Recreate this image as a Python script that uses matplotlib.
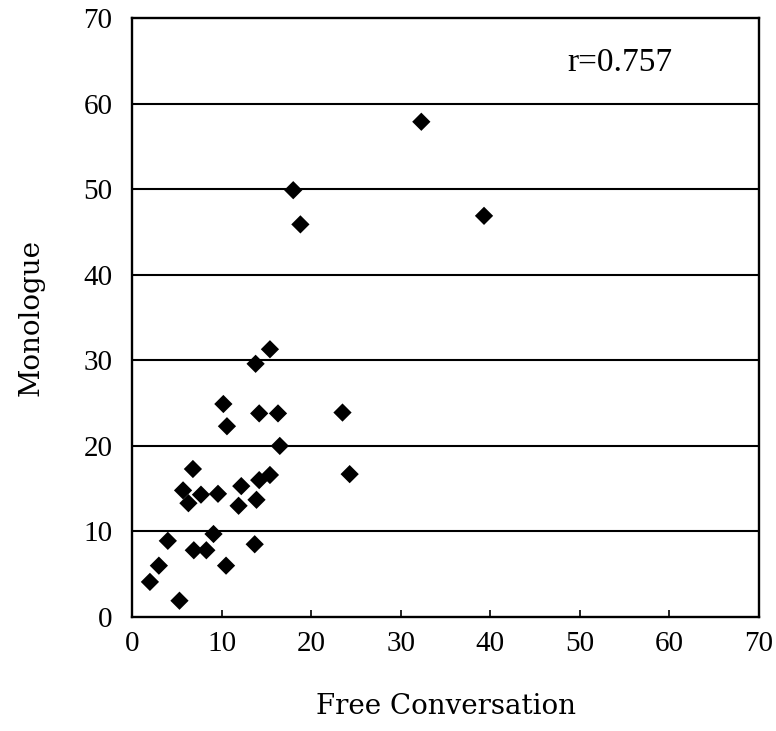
import matplotlib
matplotlib.use("Agg")
import matplotlib.pyplot as plt

# Data
free_conversation = [16.5, 6.8, 15.4, 14.2, 12.2, 5.7, 7.7, 9.6, 6.3, 11.9, 13.9,
                     9.1, 4.0, 6.9, 8.3, 13.7, 3.0, 10.5, 2.0, 5.3,
                     15.4, 13.8, 10.2, 14.2, 16.3, 10.6, 23.5, 24.3,
                     32.3, 18.0, 18.8, 39.3]
monologue = [20.0, 17.3, 16.6, 16.0, 15.3, 14.8, 14.3, 14.4, 13.3, 13.0, 13.7,
             9.7, 8.9, 7.8, 7.8, 8.5, 6.0, 6.0, 4.1, 1.9,
             31.3, 29.6, 24.9, 23.8, 23.8, 22.3, 23.9, 16.7,
             57.9, 49.9, 45.9, 46.9]
x_ticks = [0, 10, 20, 30, 40, 50, 60, 70]
y_ticks = [0, 10, 20, 30, 40, 50, 60, 70]
r_label = "r=0.757"
x_label = "Free Conversation"
y_label = "Monologue"

fig = plt.figure(figsize=(7.76, 7.31), dpi=100)
ax = fig.add_axes([0.1701, 0.156, 0.808, 0.819])

for yv in y_ticks[1:-1]:
    ax.axhline(yv, color="black", lw=1.5, zorder=1)

ax.scatter(free_conversation, monologue, marker="D", s=9.3**2, color="black",
           edgecolors="none", zorder=3, clip_on=False)

ax.set_xlim(0, 70)
ax.set_ylim(0, 70)
ax.set_xticks(x_ticks)
ax.set_yticks(y_ticks)
tick_font = {"family": "Liberation Serif", "size": 21}
ax.set_xticklabels([str(t) for t in x_ticks], fontdict=tick_font)
ax.set_yticklabels([str(t) for t in y_ticks], fontdict=tick_font)
ax.tick_params(axis="x", direction="in", length=5, width=1.2, pad=10)
ax.tick_params(axis="y", direction="in", length=0, pad=14)

for sp in ax.spines.values():
    sp.set_linewidth(1.7)
    sp.set_color("black")

ax.set_xlabel(x_label, family="DejaVu Serif", fontsize=20, labelpad=26)
ax.set_ylabel(y_label, family="DejaVu Serif", fontsize=20, labelpad=28)

ax.text(0.695, 0.925, r_label, transform=ax.transAxes, family="Liberation Serif",
        fontsize=24, ha="left", va="center")

fig.savefig("out.png", dpi=100)
